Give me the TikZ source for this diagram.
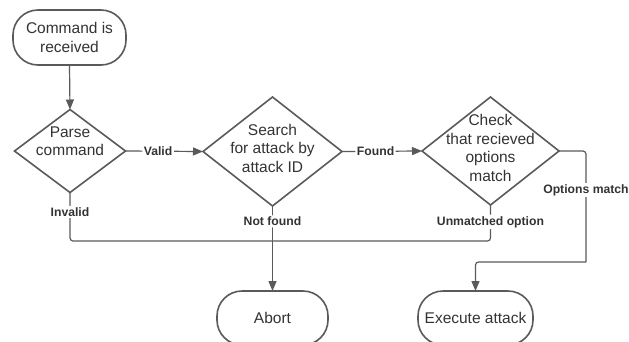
\documentclass[tikz,border=0pt]{standalone}
\usepackage{fontspec}
\setmainfont{Liberation Sans}
\usetikzlibrary{shapes.geometric,arrows.meta}
\definecolor{lineg}{HTML}{5A5A5A}
\definecolor{textg}{HTML}{333333}
\tikzset{
  term/.style={draw=lineg, line width=1.6pt, rounded corners=25pt, minimum width=113pt, minimum height=55pt, inner sep=0pt, outer sep=0pt},
  dia/.style={draw=lineg, line width=1.6pt, diamond, inner sep=0pt, outer sep=0pt},
  txt/.style={text=textg, align=center, inner sep=0pt, font=\fontsize{15.5}{18.5}\selectfont},
  lbl/.style={text=textg, fill=white, inner sep=1.5pt, font=\bfseries\fontsize{12.2}{14}\selectfont},
  conn/.style={draw=lineg, line width=1.2pt, rounded corners=3pt},
  arr/.style={conn, -{Triangle[length=10pt,width=8pt]}}
}
\begin{document}
\begin{tikzpicture}[x=1pt,y=-1pt]
\useasboundingbox (0,0) rectangle (629,341);
\fill[white] (0,0) rectangle (629,341);
% shapes
\node[term] (start) at (69.5,37.5) {};
\node[txt] (starttxt) at (69.5,37.5) {Command is\\received};
\node[dia, minimum width=111pt, minimum height=83pt] (d1) at (70,151) {};
\node[txt] (d1txt) at (70,141) {Parse\\command};
\node[dia, minimum width=139pt, minimum height=109pt] (d2) at (272.5,151.5) {};
\node[txt] (d2txt) at (272.5,148) {Search\\for attack by\\attack ID};
\node[dia, minimum width=137pt, minimum height=108pt] (d3) at (490.5,151) {};
\node[txt] (d3txt) at (490.5,148) {Check\\that recieved\\options\\match};
\node[term, minimum width=111pt, minimum height=54pt] (abort) at (272.5,318) {};
\node[txt] (aborttxt) at (272.5,318) {Abort};
\node[term, minimum width=115pt, minimum height=54pt] (exec) at (475.5,318) {};
\node[txt] (exectxt) at (475.5,318) {Execute attack};
% junctions
\coordinate (j) at (272.5,241);
\coordinate (c1) at (586,262);
% connectors
\draw[arr] (start.south) -- (d1.north);
\draw[arr] (d1.east) -- node[lbl, pos=0.42] {Valid} (d2.west);
\draw[arr] (d2.east) -- node[lbl, pos=0.42] {Found} (d3.west);
\draw[conn] (d1.south) |- node[lbl, pos=0.2] {Invalid} (j);
\draw[conn] (d3.south) |- node[lbl, pos=0.235] {Unmatched option} (j);
\draw[arr] (d2.south) -- node[lbl, pos=0.18] {Not found} (abort.north);
\draw[conn] (d3.east) -| (c1);
\draw[arr] (c1) -| (exec.north);
\node[lbl] (omlbl) at (586,190) {Options match};
\end{tikzpicture}
\end{document}
